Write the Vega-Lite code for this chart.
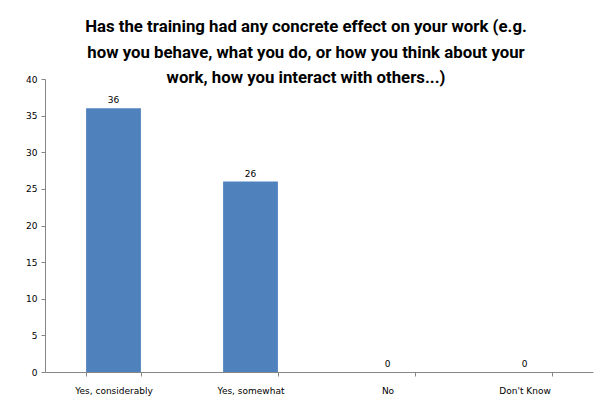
{
  "$schema": "https://vega.github.io/schema/vega-lite/v6.json",
  "width": 548,
  "height": 293,
  "autosize": {"type": "none"},
  "padding": {"left": 45, "top": 79, "right": 12, "bottom": 35},
  "background": "white",
  "title": {
    "text": ["Has the training had any concrete effect on your work (e.g.", "how you behave, what you do, or how you think about your", "work, how you interact with others...)"],
    "font": "Roboto",
    "fontSize": 16.8,
    "fontWeight": "bold",
    "lineHeight": 25.5,
    "anchor": "middle",
    "frame": "group",
    "dx": -13,
    "offset": -12,
    "color": "black"
  },
  "data": {
    "values": [
      {"answer": "Yes, considerably", "count": 36},
      {"answer": "Yes, somewhat", "count": 26},
      {"answer": "No", "count": 0},
      {"answer": "Don't Know", "count": 0}
    ]
  },
  "encoding": {
    "x": {
      "field": "answer",
      "type": "nominal",
      "sort": null,
      "scale": {"paddingInner": 0.6, "paddingOuter": 0.3},
      "axis": {
        "title": null,
        "labelAngle": 0,
        "tickBand": "extent",
        "tickSize": 4,
        "labelPadding": 10,
        "labelFont": "DejaVu Sans",
        "labelFontSize": 9,
        "labelColor": "black",
        "domainColor": "#868686",
        "tickColor": "#868686"
      }
    },
    "y": {
      "field": "count",
      "type": "quantitative",
      "scale": {"domain": [0, 40]},
      "axis": {
        "title": null,
        "values": [0, 5, 10, 15, 20, 25, 30, 35, 40],
        "grid": false,
        "tickSize": 4,
        "labelPadding": 4,
        "labelFont": "DejaVu Sans",
        "labelFontSize": 9,
        "labelColor": "black",
        "domainColor": "#868686",
        "tickColor": "#868686"
      }
    }
  },
  "layer": [
    {"mark": {"type": "bar", "color": "#4F81BD"}},
    {
      "mark": {"type": "text", "baseline": "alphabetic", "dy": -5, "font": "DejaVu Sans", "fontSize": 9, "color": "black"},
      "encoding": {"text": {"field": "count", "type": "quantitative"}}
    }
  ],
  "config": {"view": {"stroke": null}}
}
